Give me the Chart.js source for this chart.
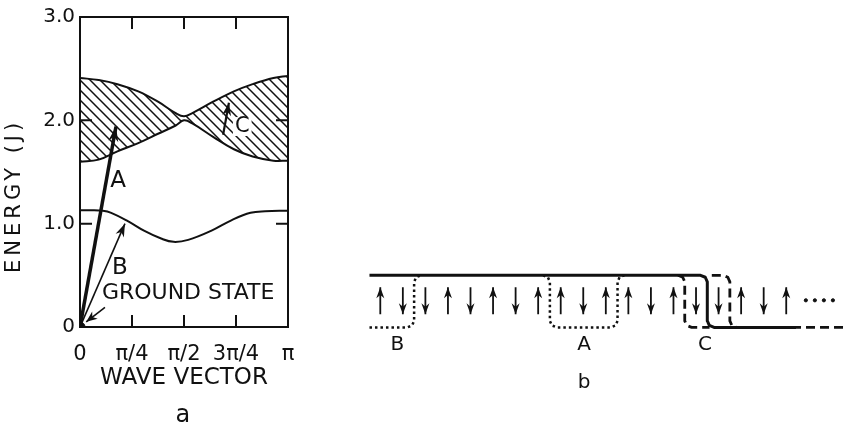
<!DOCTYPE html>
<html>
<head>
<meta charset="utf-8">
<script src="https://cdn.jsdelivr.net/npm/chart.js@4.4.0/dist/chart.umd.min.js"></script>
<style>
  body { margin: 0; background: #fff; }
  #wrap { position: relative; width: 853px; height: 429px; overflow: hidden; }
  canvas { position: absolute; }
  #chartA { left: 0; top: 0; }
  #chartB { left: 340px; top: 240px; }
</style>
</head>
<body>
<div id="wrap">
  <canvas id="chartA" width="340" height="429"></canvas>
  <canvas id="chartB" width="513" height="189"></canvas>
</div>
<script>
// ---- Panel a: energy vs wave vector (k in units of pi) ----
const kTicks = [0, 0.25, 0.5, 0.75, 1];
const kTickLabels = ['0', 'π/4', 'π/2', '3π/4', 'π'];
const eTicks = [0, 1, 2, 3];
const eTickLabels = ['0', '1.0', '2.0', '3.0'];

// two-magnon continuum (hatched band)
const bandK      = [0, 0.09, 0.18, 0.28, 0.375, 0.46, 0.5, 0.54, 0.64, 0.74, 0.83, 0.93, 1];
const bandTop    = [2.41, 2.39, 2.35, 2.28, 2.18, 2.07, 2.04, 2.07, 2.18, 2.28, 2.35, 2.41, 2.43];
const bandBottom = [1.60, 1.62, 1.70, 1.78, 1.87, 1.95, 2.00, 1.97, 1.84, 1.72, 1.65, 1.61, 1.61];

// lower (bound state) curve
const lowerK = [0, 0.05, 0.11, 0.15, 0.23, 0.31, 0.39, 0.45, 0.52, 0.63, 0.73, 0.82, 0.89, 1];
const lowerE = [1.13, 1.13, 1.125, 1.105, 1.025, 0.93, 0.856, 0.824, 0.843, 0.93, 1.035, 1.105, 1.12, 1.125];

// transition arrows: [k, E] from -> to
const arrowA = [[0, 0], [0.173, 1.94]];
const arrowB = [[0, 0], [0.216, 1.0]];
const arrowG = [[0.12, 0.19], [0.03, 0.05]];
const arrowC = [[0.688, 1.86], [0.716, 2.17]];

// text annotations on panel a
const notesA = [
  { text: 'A', k: 0.183, e: 1.41, size: 23 },
  { text: 'B', k: 0.192, e: 0.575, size: 23 },
  { text: 'C', k: 0.78, e: 1.94, size: 21, clear: true },
  { text: 'GROUND STATE', k: 0.52, e: 0.326, size: 22 },
  { text: 'a', k: 0.495, e: -0.86, size: 24 }
];

// ---- Panel b: spin chain with domain walls (x = site, y: 0 bottom, 1 top) ----
const spins = [1, -1, -1, 1, -1, 1, -1, 1, 1, -1, 1, 1, -1, 1, -1, -1, 1, -1, 1];

const solidX = [-0.48, 14.2, 14.41, 14.5, 14.5, 14.59, 14.8, 18.43];
const solidY = [1, 1, 0.963, 0.875, 0.125, 0.037, 0, 0];
const dashLeftX = [13.2, 13.41, 13.5, 13.5, 13.59, 13.8, 14.6];
const dashLeftY = [1, 0.963, 0.875, 0.125, 0.037, 0, 0];
const dashRightX = [14.7, 15.2, 15.41, 15.5, 15.5, 15.59, 15.8, 20.6];
const dashRightY = [1, 1, 0.963, 0.875, 0.125, 0.037, 0, 0];
const dotBX = [-0.48, 1.2, 1.41, 1.5, 1.5, 1.59, 1.8];
const dotBY = [0, 0, 0.037, 0.125, 0.875, 0.963, 1];
const dotAX = [7.22, 7.43, 7.52, 7.52, 7.61, 7.82, 10.22, 10.43, 10.52, 10.52, 10.61, 10.82];
const dotAY = [1, 0.963, 0.875, 0.125, 0.037, 0, 0, 0.037, 0.125, 0.875, 0.963, 1];
const moreX = [18.87, 19.27, 19.67, 20.07];
const moreY = [0.52, 0.52, 0.52, 0.52];

const notesB = [
  { text: 'B', x: 0.76, y: -0.33, size: 20 },
  { text: 'A', x: 9.04, y: -0.33, size: 20 },
  { text: 'C', x: 14.4, y: -0.33, size: 20 },
  { text: 'b', x: 9.04, y: -1.06, size: 20 }
];

const ink = '#111';
const FONT = "'DejaVu Sans', sans-serif";
Chart.defaults.font.family = FONT;
Chart.defaults.color = ink;

function pts(xs, ys) { return xs.map((x, i) => ({ x: x, y: ys[i] })); }
function pairPts(a) { return a.map(p => ({ x: p[0], y: p[1] })); }

function hatchPattern() {
  const c = document.createElement('canvas');
  c.width = 10; c.height = 10;
  const g = c.getContext('2d');
  g.strokeStyle = ink;
  g.lineWidth = 1.5;
  g.beginPath();
  g.moveTo(0, 0); g.lineTo(10, 10);
  g.moveTo(-2, 8); g.lineTo(2, 12);
  g.moveTo(8, -2); g.lineTo(12, 2);
  g.stroke();
  return g.createPattern(c, 'repeat');
}

function drawHead(ctx, x0, y0, x1, y1, len, half) {
  const a = Math.atan2(y1 - y0, x1 - x0);
  ctx.save();
  ctx.translate(x1, y1);
  ctx.rotate(a);
  ctx.beginPath();
  ctx.moveTo(0, 0);
  ctx.lineTo(-len, -half);
  ctx.lineTo(-len * 0.7, 0);
  ctx.lineTo(-len, half);
  ctx.closePath();
  ctx.fillStyle = ink;
  ctx.fill();
  ctx.restore();
}

// frame, inward ticks, arrow heads and labels for panel a
const panelAPlugin = {
  id: 'panelA',
  afterDatasetsDraw(chart) {
    const ctx = chart.ctx;
    chart.data.datasets.forEach((ds, i) => {
      if (!ds.head) return;
      const p = chart.getDatasetMeta(i).data;
      const a = p[p.length - 2], b = p[p.length - 1];
      drawHead(ctx, a.x, a.y, b.x, b.y, ds.head[0], ds.head[1]);
    });
  },
  afterDraw(chart) {
    const ctx = chart.ctx;
    const { left, right, top, bottom } = chart.chartArea;
    const xs = chart.scales.x, ys = chart.scales.y;
    ctx.save();
    ctx.strokeStyle = ink;
    ctx.lineWidth = 2;
    ctx.strokeRect(left, top, right - left, bottom - top);
    ctx.beginPath();
    const tl = 12;
    kTicks.slice(1, -1).forEach(v => {
      const x = xs.getPixelForValue(v);
      ctx.moveTo(x, bottom); ctx.lineTo(x, bottom - tl);
      ctx.moveTo(x, top); ctx.lineTo(x, top + tl);
    });
    eTicks.slice(1, -1).forEach(v => {
      const y = ys.getPixelForValue(v);
      ctx.moveTo(left, y); ctx.lineTo(left + tl, y);
      ctx.moveTo(right, y); ctx.lineTo(right - tl, y);
    });
    ctx.stroke();

    ctx.fillStyle = ink;
    ctx.textAlign = 'center';
    ctx.textBaseline = 'middle';
    notesA.forEach(n => {
      const x = xs.getPixelForValue(n.k), y = ys.getPixelForValue(n.e);
      ctx.font = n.size + 'px ' + FONT;
      if (n.clear) {
        const w = ctx.measureText(n.text).width;
        ctx.fillStyle = '#fff';
        ctx.fillRect(x - w / 2 - 2, y - n.size * 0.45, w + 4, n.size * 0.9);
        ctx.fillStyle = ink;
      }
      ctx.fillText(n.text, x, y);
    });

    // rotated y title
    ctx.translate(15, ys.getPixelForValue(1.25));
    ctx.rotate(-Math.PI / 2);
    ctx.font = '21px ' + FONT;
    ctx.letterSpacing = '4px';
    ctx.fillText('ENERGY (J)', 2, 0);
    ctx.restore();
  }
};

const lineBase = { showLine: true, pointRadius: 0, borderColor: ink, fill: false };

new Chart(document.getElementById('chartA'), {
  type: 'scatter',
  data: {
    datasets: [
      Object.assign({}, lineBase, { data: pts(bandK, bandTop), borderWidth: 2, tension: 0.4,
        fill: '+1', backgroundColor: hatchPattern() }),
      Object.assign({}, lineBase, { data: pts(bandK, bandBottom), borderWidth: 2, tension: 0.4 }),
      Object.assign({}, lineBase, { data: pts(lowerK, lowerE), borderWidth: 2, tension: 0.4 }),
      Object.assign({}, lineBase, { data: pairPts(arrowA), borderWidth: 3.5, head: [15, 5] }),
      Object.assign({}, lineBase, { data: pairPts(arrowB), borderWidth: 1.6, head: [13, 4.5] }),
      Object.assign({}, lineBase, { data: pairPts(arrowG), borderWidth: 1.6, head: [11, 4.5] }),
      Object.assign({}, lineBase, { data: pairPts(arrowC), borderWidth: 2.2, head: [13, 4.5] }),
      { data: [{ x: 0, y: 0 }], showLine: false, pointRadius: 5, backgroundColor: ink, borderColor: ink }
    ]
  },
  options: {
    responsive: false,
    devicePixelRatio: 1,
    animation: false,
    layout: { padding: { left: 0, top: 14, right: 52, bottom: 37 } },
    plugins: { legend: { display: false }, tooltip: { enabled: false } },
    scales: {
      x: {
        type: 'linear', min: 0, max: 1,
        grid: { display: false, drawTicks: false },
        border: { display: false },
        afterBuildTicks: s => { s.ticks = kTicks.map(v => ({ value: v })); },
        afterFit: s => { s.height = 65; },
        ticks: { callback: (v, i) => kTickLabels[i], padding: 15, maxRotation: 0, autoSkip: false,
          font: { size: 21 }, color: ink },
        title: { display: true, text: 'WAVE VECTOR', font: { size: 23 }, color: ink, padding: 0 }
      },
      y: {
        type: 'linear', min: 0, max: 3,
        grid: { display: false, drawTicks: false },
        border: { display: false },
        afterBuildTicks: s => { s.ticks = eTicks.map(v => ({ value: v })); },
        afterFit: s => { s.width = 80; },
        ticks: { callback: (v, i) => eTickLabels[i], padding: 5, font: { size: 20 }, color: ink }
      }
    }
  },
  plugins: [panelAPlugin]
});

// ---- Panel b chart ----
const spinLow = 0.25, spinHigh = 0.77;
const spinShafts = [];
spins.forEach((s, i) => {
  spinShafts.push({ x: i, y: spinLow }, { x: i, y: spinHigh }, { x: i, y: null });
});

const panelBPlugin = {
  id: 'panelB',
  afterDatasetsDraw(chart) {
    const ctx = chart.ctx;
    const xs = chart.scales.x, ys = chart.scales.y;
    spins.forEach((s, i) => {
      const x = xs.getPixelForValue(i);
      const yl = ys.getPixelForValue(spinLow), yh = ys.getPixelForValue(spinHigh);
      if (s > 0) drawHead(ctx, x, yl, x, yh, 11, 4);
      else drawHead(ctx, x, yh, x, yl, 11, 4);
    });
    ctx.save();
    ctx.fillStyle = ink;
    ctx.textAlign = 'center';
    ctx.textBaseline = 'middle';
    notesB.forEach(n => {
      ctx.font = n.size + 'px ' + FONT;
      ctx.fillText(n.text, xs.getPixelForValue(n.x), ys.getPixelForValue(n.y));
    });
    ctx.restore();
  }
};

new Chart(document.getElementById('chartB'), {
  type: 'scatter',
  data: {
    datasets: [
      Object.assign({}, lineBase, { data: pts(solidX, solidY), borderWidth: 3, borderJoinStyle: 'round' }),
      Object.assign({}, lineBase, { data: pts(dashLeftX, dashLeftY), borderWidth: 2.8, borderDash: [9, 5] }),
      Object.assign({}, lineBase, { data: pts(dashRightX, dashRightY), borderWidth: 2.8, borderDash: [9, 5] }),
      Object.assign({}, lineBase, { data: pts(dotBX, dotBY), borderWidth: 2.5, borderDash: [2.5, 3] }),
      Object.assign({}, lineBase, { data: pts(dotAX, dotAY), borderWidth: 2.5, borderDash: [2.5, 3] }),
      Object.assign({}, lineBase, { data: spinShafts, borderWidth: 1.8, spanGaps: false }),
      { data: pts(moreX, moreY), showLine: false, pointRadius: 1.6, backgroundColor: ink, borderColor: ink }
    ]
  },
  options: {
    responsive: false,
    devicePixelRatio: 1,
    animation: false,
    layout: { padding: 0 },
    plugins: { legend: { display: false }, tooltip: { enabled: false } },
    scales: {
      x: { type: 'linear', display: false, min: -1.565, max: 20.739 },
      y: { type: 'linear', display: false, min: -1.855, max: 1.582 }
    }
  },
  plugins: [panelBPlugin]
});
</script>
</body>
</html>
